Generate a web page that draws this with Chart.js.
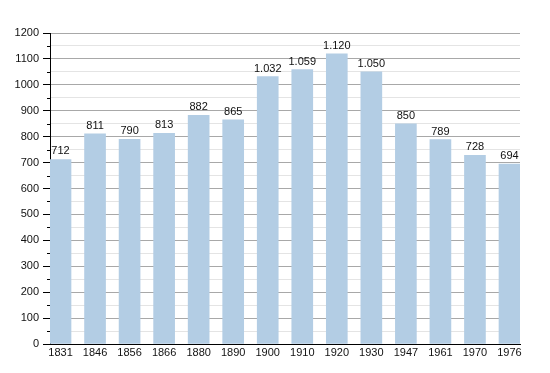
<!DOCTYPE html>
<html>
<head>
<meta charset="utf-8">
<script src="https://cdn.jsdelivr.net/npm/chart.js@4/dist/chart.umd.min.js"></script>
<style>
	html, body { margin: 0; padding: 0; background: #fff; }
	#wrap { width: 550px; height: 373px; }
</style>
</head>
<body>
<div id="wrap"><canvas id="population-canvas"></canvas></div>
<script>
// Population by census year
const years = ["1831", "1846", "1856", "1866", "1880", "1890", "1900", "1910", "1920", "1930", "1947", "1961", "1970", "1976"];
const population = [712, 811, 790, 813, 882, 865, 1032, 1059, 1120, 1050, 850, 789, 728, 694];
const yTicks = [0, 100, 200, 300, 400, 500, 600, 700, 800, 900, 1000, 1100, 1200];

const barColor = "#b3cde4";
const fontFamily = "'Liberation Sans', Arial, sans-serif";

// 1.032 style thousands separator
function formatValue(v) {
	return String(v).replace(/\B(?=(\d{3})+(?!\d))/g, ".");
}

// Value labels above each bar
const valueLabels = {
	id: "valueLabels",
	afterDatasetsDraw(chart) {
		const ctx = chart.ctx;
		const meta = chart.getDatasetMeta(0);
		ctx.save();
		ctx.font = "11px " + fontFamily;
		ctx.fillStyle = "#111";
		ctx.textAlign = "center";
		ctx.textBaseline = "alphabetic";
		meta.data.forEach((bar, i) => {
			ctx.fillText(formatValue(population[i]), bar.x, bar.y - 5);
		});
		ctx.restore();
	}
};

// Short tick marks for the minor (50) steps on the y axis
const minorTicks = {
	id: "minorTicks",
	afterDraw(chart) {
		const ctx = chart.ctx;
		const y = chart.scales.y;
		ctx.save();
		ctx.strokeStyle = "#000";
		ctx.lineWidth = 1;
		y.ticks.forEach(t => {
			if (t.value % 100 === 0) return;
			const py = Math.round(y.getPixelForValue(t.value)) + 0.5;
			ctx.beginPath();
			ctx.moveTo(y.right - 3, py);
			ctx.lineTo(y.right, py);
			ctx.stroke();
		});
		ctx.restore();
	}
};

let ctx = document.getElementById("population-canvas").getContext("2d");

let chart = new Chart(ctx, {
	type: "bar",
	data: {
		datasets: [
			{
			backgroundColor: barColor,
			borderWidth: 0,
			barThickness: 21,
			data: population.map((v, i) => ({ x: i, y: v })),
			}
		]
	},
	options: {
		responsive: true,
		maintainAspectRatio: false,
		animation: false,
		layout: {
			padding: { top: 33, right: 30, bottom: 0, left: 0 }
		},
		scales: {
			x: {
				type: "linear",
				offset: false,
				min: -0.3043,
				max: years.length - 1 + 0.3043,
				afterBuildTicks: (scale) => {
					scale.ticks = years.map((y, i) => ({ value: i }));
				},
				afterFit: (scale) => { scale.height = 29; },
				ticks: {
					autoSkip: false,
					maxRotation: 0,
					padding: 2,
					color: "#111",
					font: { family: fontFamily, size: 11 },
					callback: (v) => years[v]
				},
				grid: { display: false, drawTicks: false },
				border: { display: true, color: "#000", width: 1 }
			},
			y: {
				min: 0,
				max: 1200,
				afterBuildTicks: (scale) => {
					let t = [];
					yTicks.forEach(v => {
						t.push({ value: v });
						if (v < 1200) t.push({ value: v + 50 });
					});
					scale.ticks = t;
				},
				afterFit: (scale) => { scale.width = 50; },
				ticks: {
					autoSkip: false,
					padding: 4,
					color: "#111",
					font: { family: fontFamily, size: 11 },
					callback: (v) => (v % 100 === 0 ? String(v) : "")
				},
				grid: {
					color: (c) => (c.tick && c.tick.value % 100 === 0 ? "#a8a8a8" : "#e4e4e4"),
					tickColor: (c) => (c.tick && c.tick.value % 100 === 0 ? "#000" : "rgba(0,0,0,0)"),
					tickLength: 7,
					lineWidth: 1
				},
				border: { display: true, color: "#000", width: 1 }
			}
		},
		plugins: {
			legend: { display: false },
			tooltip: { enabled: false }
		}
	},
	plugins: [valueLabels, minorTicks]
});
</script>
</body>
</html>
